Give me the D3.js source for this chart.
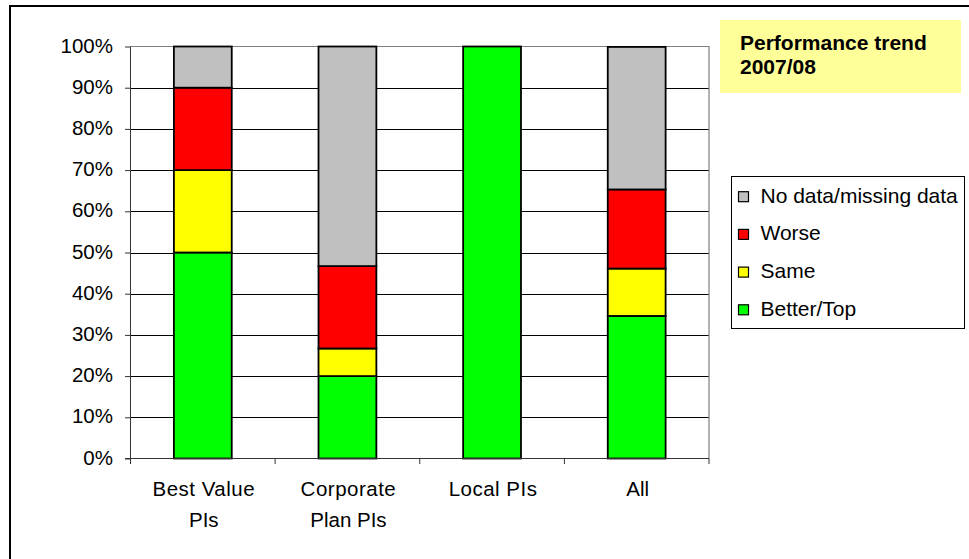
<!DOCTYPE html>
<html><head><meta charset="utf-8">
<script src="https://cdn.jsdelivr.net/npm/d3@7"></script>
<style>
html,body{margin:0;padding:0;background:#fff;}
svg{display:block;font-family:"Liberation Sans",Arial,sans-serif;}
</style></head>
<body>
<svg id="c" width="969" height="559"></svg>
<script>
const categories = ["Best Value PIs", "Corporate Plan PIs", "Local PIs", "All"];
const categoryLines = [["Best Value", "PIs"], ["Corporate", "Plan PIs"], ["Local PIs"], ["All"]];
const seriesNames = ["Better/Top", "Same", "Worse", "No data/missing data"];
const betterTop = [50, 20, 100, 34.6];
const same = [20, 6.7, 0, 11.5];
const worse = [20, 20, 0, 19.2];
const noData = [10, 53.3, 0, 34.6];
const seriesColors = ["#00FF00", "#FFFF00", "#FF0000", "#C0C0C0"];
const yTicks = [0, 10, 20, 30, 40, 50, 60, 70, 80, 90, 100];
const titleLines = ["Performance trend", "2007/08"];

const svg = d3.select("#c");
const L = 130.5, T = 46.5, R = 709, B = 458.5;

// outer chart border (cropped at right/bottom)
svg.append("rect").attr("x", 10).attr("y", 6).attr("width", 1000).attr("height", 600)
  .attr("fill", "#fff").attr("stroke", "#000").attr("stroke-width", 2);

const x = d3.scaleBand().domain(categories).range([L, R]).paddingInner(0.6).paddingOuter(0.3);
const y = d3.scaleLinear().domain([0, 100]).range([B, T]);

// gridlines
svg.append("g").selectAll("line").data(yTicks.filter(t => t > 0 && t < 100)).join("line")
  .attr("x1", L).attr("x2", R).attr("y1", d => Math.round(y(d)) + 0.5).attr("y2", d => Math.round(y(d)) + 0.5)
  .attr("stroke", "#000").attr("stroke-width", 1);

// plot border top/right gray
svg.append("path").attr("d", `M${L},${T}H${R}V${B}`).attr("fill", "none").attr("stroke", "#808080").attr("stroke-width", 1.2);

// stacked bars
const rows = categories.map((c, i) => ({cat: c, "Better/Top": betterTop[i], "Same": same[i], "Worse": worse[i], "No data/missing data": noData[i]}));
const stack = d3.stack().keys(seriesNames)(rows);
stack.forEach((s, si) => {
  svg.append("g").selectAll("rect").data(s.filter(d => d[1] - d[0] > 0)).join("rect")
    .attr("x", d => x(d.data.cat))
    .attr("width", x.bandwidth())
    .attr("y", d => y(d[1]))
    .attr("height", d => y(d[0]) - y(d[1]))
    .attr("fill", seriesColors[si])
    .attr("stroke", "#000").attr("stroke-width", 1.8);
});

// y axis
const yAxis = d3.axisLeft(y).tickValues(yTicks).tickSize(5.5).tickPadding(12).tickFormat(d => d + "%");
const gy = svg.append("g").attr("transform", `translate(${L},0)`).call(yAxis);
gy.select(".domain").attr("stroke", "#333").attr("d", `M-0,${T}V${B + 5.5}`);
gy.selectAll(".tick line").attr("stroke", "#333");
gy.selectAll(".tick text").attr("font-size", 20.5).attr("fill", "#000").attr("font-family", "Liberation Sans, Arial, sans-serif").attr("dy", "0.27em");

// x axis line and boundary ticks
svg.append("line").attr("x1", L - 5.5).attr("x2", R).attr("y1", B).attr("y2", B).attr("stroke", "#333").attr("stroke-width", 1.2);
const step = x.step();
const boundaries = categories.slice(1).map(c => x(c) - x.paddingInner() * step / 2);
svg.append("g").selectAll("line").data(boundaries.concat([R])).join("line")
  .attr("x1", d => d).attr("x2", d => d).attr("y1", B).attr("y2", B + 5.5)
  .attr("stroke", "#333").attr("stroke-width", 1);

// category labels
const gx = svg.append("g");
categories.forEach((c, i) => {
  const cx = x(c) + x.bandwidth() / 2 + 1;
  categoryLines[i].forEach((ln, j) => {
    gx.append("text").attr("x", cx).attr("y", 496 + j * 30.6).attr("text-anchor", "middle")
      .attr("font-size", 20.5).attr("letter-spacing", ln.length > 8 ? 0.5 : 0).attr("fill", "#000").text(ln);
  });
});

// title box
svg.append("rect").attr("x", 720).attr("y", 20).attr("width", 241).attr("height", 73).attr("fill", "#FFFF99");
titleLines.forEach((t, i) => {
  svg.append("text").attr("x", 740).attr("y", 50 + i * 24).attr("font-size", 21).attr("font-weight", "bold").attr("fill", "#000").text(t);
});

// legend
svg.append("rect").attr("x", 731.5).attr("y", 176.5).attr("width", 233).attr("height", 152)
  .attr("fill", "#fff").attr("stroke", "#000").attr("stroke-width", 1);
const legendOrder = [3, 2, 1, 0];
legendOrder.forEach((si, r) => {
  const by = 202.7 + r * 37.7;
  svg.append("rect").attr("x", 738.5).attr("y", by - 11).attr("width", 10).attr("height", 10)
    .attr("fill", seriesColors[si]).attr("stroke", "#000").attr("stroke-width", 1.2);
  svg.append("text").attr("x", 760.5).attr("y", by).attr("font-size", 21).attr("fill", "#000").text(seriesNames[si]);
});
</script>
</body></html>
